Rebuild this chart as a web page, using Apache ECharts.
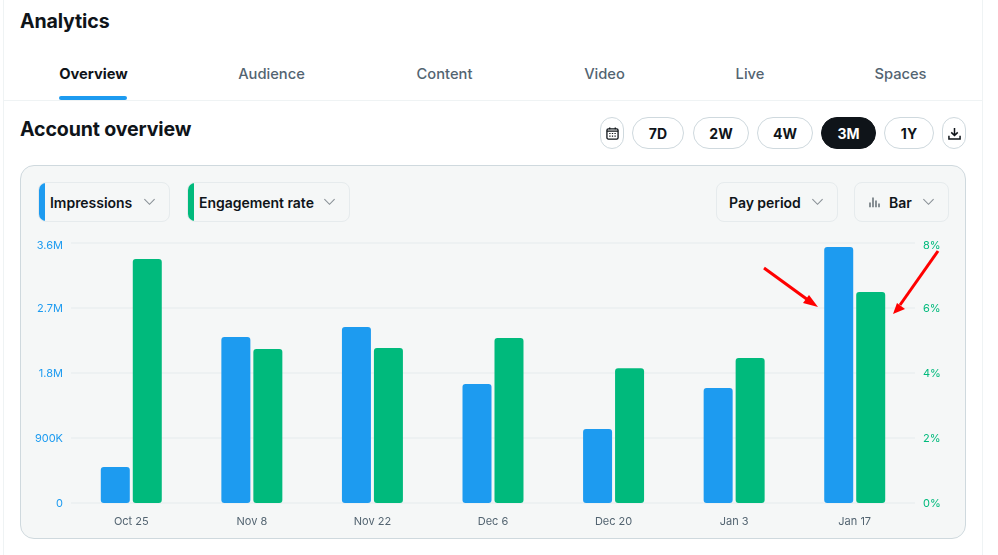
<!DOCTYPE html>
<html>
<head>
<meta charset="utf-8">
<script src="https://cdn.jsdelivr.net/npm/echarts@6/dist/echarts.min.js"></script>
<style>
html,body{margin:0;padding:0;width:998px;height:555px;overflow:hidden;background:#fff;font-family:Inter,"Noto Sans",sans-serif;color:#0f1419}
.abs{position:absolute;box-sizing:border-box}
.t{position:absolute;white-space:nowrap;transform:translate(-50%,-50%)}
.tab{font-size:14.7px;font-weight:500;color:#536471}
.h{position:absolute;left:20px;white-space:nowrap;transform:translateY(-50%);font-size:19.6px;font-weight:700;letter-spacing:-.15px}
.btn{position:absolute;top:117px;height:32px;border:1px solid #cfd9de;border-radius:16px;box-sizing:border-box;display:flex;align-items:center;justify-content:center;font-size:14px;font-weight:700;background:#fff}
.pill{position:absolute;top:182px;height:40px;border:1px solid #e6ebed;border-radius:8px;box-sizing:border-box;font-size:14px;font-weight:600;letter-spacing:-.03px;overflow:hidden;white-space:nowrap}
.pill span{position:absolute;top:50%;transform:translateY(-50%)}
.pill i{position:absolute;left:-1px;top:-1px;bottom:-1px;width:7px}
.pill svg{position:absolute;top:50%;transform:translateY(-50%)}
#chart{position:absolute;left:0;top:0;width:998px;height:555px}
</style>
</head>
<body>
<div class="abs" style="left:3px;top:0;width:1px;height:555px;background:#eff3f4"></div>
<div class="abs" style="left:982px;top:0;width:1px;height:555px;background:#eff3f4"></div>
<div class="abs" style="left:4px;top:100px;width:978px;height:1px;background:#eff3f4"></div>
<div class="h" style="top:21px">Analytics</div>
<div class="t tab" style="left:93.5px;top:74px;color:#0f1419;font-weight:700">Overview</div>
<div class="t tab" style="left:271.5px;top:74px">Audience</div>
<div class="t tab" style="left:444.5px;top:74px">Content</div>
<div class="t tab" style="left:604.5px;top:74px">Video</div>
<div class="t tab" style="left:750px;top:74px">Live</div>
<div class="t tab" style="left:900.5px;top:74px">Spaces</div>
<div class="abs" style="left:59px;top:96px;width:68px;height:4px;background:#1d9bf0;border-radius:2px"></div>
<div class="h" style="top:129px">Account overview</div>

<div class="btn" style="left:600px;width:24px">
<svg width="13" height="13" viewBox="0 0 14 14" fill="none" stroke="#0f1419" stroke-width="1.4"><rect x="1" y="2" width="12" height="11" rx="1.5"/><path d="M1 4.5h12M4 .5v2M10 .5v2"/><path d="M3.5 7h1.4M6.3 7h1.4M9.1 7h1.4M3.5 9.8h1.4M6.3 9.8h1.4M9.1 9.8h1.4" stroke-width="1.2"/></svg>
</div>
<div class="btn" style="left:632px;width:52px">7D</div>
<div class="btn" style="left:693px;width:56px">2W</div>
<div class="btn" style="left:757px;width:56px">4W</div>
<div class="btn" style="left:821px;width:55px;background:#0f1419;border-color:#0f1419;color:#fff">3M</div>
<div class="btn" style="left:884px;width:50px">1Y</div>
<div class="btn" style="left:942px;width:24px">
<svg width="13" height="13" viewBox="0 0 14 14" fill="none" stroke="#0f1419" stroke-width="1.6"><path d="M7 1v8M3.5 5.8L7 9.2l3.5-3.4M1 9.5V13h12V9.5"/></svg>
</div>

<div class="abs" style="left:20px;top:165px;width:946px;height:374px;background:#f5f7f7;border:1px solid #cfd9de;border-radius:14px"></div>

<div class="pill" style="left:38px;width:132px"><i style="background:#1d9bf0"></i><span style="left:11px">Impressions</span>
<svg style="left:104px" width="13" height="8" viewBox="0 0 14 8" fill="none" stroke="#8b9298" stroke-width="1.2"><path d="M1.5 1l5.5 5.5L12.5 1"/></svg></div>
<div class="pill" style="left:187px;width:163px"><i style="background:#00ba7c"></i><span style="left:11px">Engagement rate</span>
<svg style="left:135px" width="13" height="8" viewBox="0 0 14 8" fill="none" stroke="#8b9298" stroke-width="1.2"><path d="M1.5 1l5.5 5.5L12.5 1"/></svg></div>
<div class="pill" style="left:716px;width:122px"><span style="left:12px">Pay period</span>
<svg style="left:94px" width="13" height="8" viewBox="0 0 14 8" fill="none" stroke="#8b9298" stroke-width="1.2"><path d="M1.5 1l5.5 5.5L12.5 1"/></svg></div>
<div class="pill" style="left:854px;width:95px">
<svg style="left:14px" width="11" height="11" viewBox="0 0 11 11" fill="none" stroke="#3f4a52" stroke-width="1.2"><path d="M1 11V6M4 11V1M7 11V4M10 11V7"/></svg>
<span style="left:34px">Bar</span>
<svg style="left:67px" width="13" height="8" viewBox="0 0 14 8" fill="none" stroke="#8b9298" stroke-width="1.2"><path d="M1.5 1l5.5 5.5L12.5 1"/></svg></div>

<div id="chart"></div>

<svg class="abs" style="left:0;top:0;pointer-events:none" width="998" height="555">
<path d="M764 268L808 300" stroke="#f00" stroke-width="3" fill="none"/>
<path d="M818 307L803 303L809 295Z" fill="#f00"/>
<path d="M938 251L900 305" stroke="#f00" stroke-width="3" fill="none"/>
<path d="M893 314L897 303L905 309Z" fill="#f00"/>
</svg>

<script>
var categories = ['Oct 25','Nov 8','Nov 22','Dec 6','Dec 20','Jan 3','Jan 17'];
var impressions = [498000,2298000,2437000,1648000,1025000,1592000,3545000];
var engagementRate = [7.51,4.74,4.77,5.08,4.15,4.46,6.49];
var impressionTicks = ['0','900K','1.8M','2.7M','3.6M'];
var rateTicks = ['0%','2%','4%','6%','8%'];

var chart = echarts.init(document.getElementById('chart'), null, {renderer:'canvas'});
var font = 'Inter';
function tickFormatter(ticks){
  return function(v, i){
    return i === ticks.length - 1 ? '{top|' + ticks[i] + '}' : ticks[i];
  };
}
chart.setOption({
  animation:false,
  backgroundColor:'transparent',
  grid:{left:71,right:83,top:243,bottom:52,containLabel:false},
  xAxis:{
    type:'category',
    data:categories,
    axisLine:{show:false},
    axisTick:{show:false},
    axisLabel:{color:'#536471',fontSize:11,fontFamily:font,margin:13}
  },
  yAxis:[{
    type:'value',min:0,max:3600000,interval:900000,
    axisLine:{show:false},axisTick:{show:false},
    splitLine:{show:true,lineStyle:{color:'#edf1f2',width:2}},
    axisLabel:{color:'#1d9bf0',fontSize:11,fontFamily:font,margin:8,padding:[2,0,0,0],
      formatter:tickFormatter(impressionTicks),
      rich:{top:{color:'#1d9bf0',fontSize:11,fontFamily:font,padding:[4,0,0,0]}}}
  },{
    type:'value',min:0,max:8,interval:2,position:'right',
    axisLine:{show:false},axisTick:{show:false},
    splitLine:{show:false},
    axisLabel:{color:'#00ba7c',fontSize:11,fontFamily:font,margin:8,padding:[2,0,0,0],
      formatter:tickFormatter(rateTicks),
      rich:{top:{color:'#00ba7c',fontSize:11,fontFamily:font,padding:[4,0,0,0]}}}
  }],
  series:[{
    name:'Impressions',type:'bar',yAxisIndex:0,data:impressions,
    barWidth:29,barGap:'10.3%',
    itemStyle:{color:'#1d9bf0',borderRadius:3}
  },{
    name:'Engagement rate',type:'bar',yAxisIndex:1,data:engagementRate,
    barWidth:29,
    itemStyle:{color:'#00ba7c',borderRadius:3}
  }]
});
</script>
</body>
</html>
